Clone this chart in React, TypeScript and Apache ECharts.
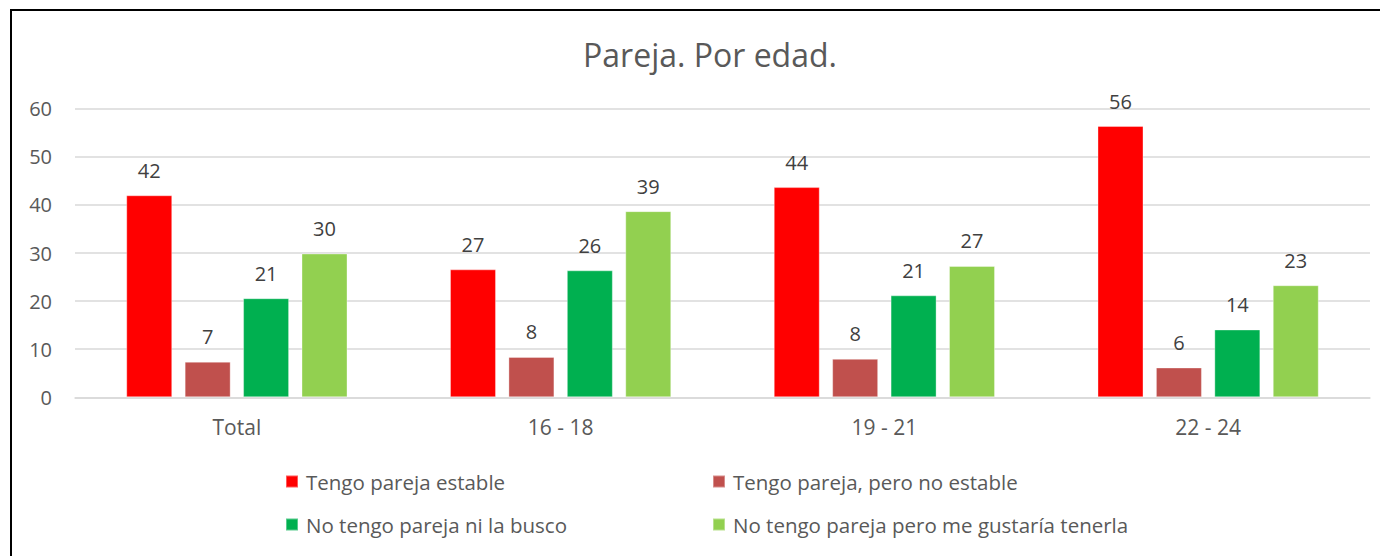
import React, { useEffect, useRef } from "react";
import * as echarts from "echarts";

const categories = ["Total", "16 - 18", "19 - 21", "22 - 24"];
const seriesNames = [
  "Tengo pareja estable",
  "Tengo pareja, pero no estable",
  "No tengo pareja ni la busco",
  "No tengo pareja pero me gustaría tenerla",
];
const estable = [42.0, 26.6, 43.7, 56.4];
const noEstable = [7.4, 8.4, 8.0, 6.2];
const niLaBusco = [20.6, 26.4, 21.2, 14.1];
const meGustaria = [29.9, 38.7, 27.3, 23.3];
const yTicks = [0, 10, 20, 30, 40, 50, 60];
const colors = ["#FF0000", "#C0504D", "#00B050", "#92D050"];

const FONT = "'Open Sans', 'Noto Sans', sans-serif";

export default function App() {
  const ref = useRef<HTMLDivElement>(null);
  useEffect(() => {
    document.body.style.margin = "0";
    const chart = echarts.init(ref.current!, null, { renderer: "svg" });
    const values = [estable, noEstable, niLaBusco, meGustaria];
    const legendText = {
      color: "#595959",
      fontSize: 20.5,
      fontFamily: FONT,
      padding: [0, 0, 0, 3],
    };
    chart.setOption({
      animation: false,
      backgroundColor: "#ffffff",
      textStyle: { fontFamily: FONT },
      title: {
        text: "Pareja. Por edad.",
        left: 705,
        textAlign: "center",
        top: 33,
        textStyle: {
          color: "#595959",
          fontSize: 32,
          fontWeight: "normal",
          fontFamily: FONT,
        },
      },
      graphic: [
        {
          type: "rect",
          shape: { x: 11, y: 10, width: 1420, height: 600 },
          style: { fill: "none", stroke: "#000000", lineWidth: 2 },
          silent: true,
        },
      ],
      legend: [
        {
          data: [seriesNames[0], seriesNames[2]],
          orient: "vertical",
          left: 285,
          top: 471,
          padding: 0,
          itemWidth: 12,
          itemHeight: 12,
          itemGap: 22,
          icon: "rect",
          textStyle: legendText,
        },
        {
          data: [seriesNames[1], seriesNames[3]],
          orient: "vertical",
          left: 712,
          top: 471,
          padding: 0,
          itemWidth: 12,
          itemHeight: 12,
          itemGap: 22,
          icon: "rect",
          textStyle: legendText,
        },
      ],
      grid: { left: 75, right: 10, top: 108.7, bottom: 158.7, containLabel: false },
      xAxis: {
        type: "category",
        data: categories,
        axisLine: { lineStyle: { color: "#D9D9D9", width: 1.5 } },
        axisTick: { show: false },
        axisLabel: { color: "#595959", fontSize: 21, margin: 19, fontFamily: FONT },
      },
      yAxis: {
        type: "value",
        min: yTicks[0],
        max: yTicks[yTicks.length - 1],
        interval: 10,
        axisLine: { show: false },
        axisTick: { show: false },
        axisLabel: { color: "#595959", fontSize: 20, margin: 23, fontFamily: FONT },
        splitLine: { lineStyle: { color: "#D9D9D9", width: 1.5 } },
      },
      series: values.map((v, i) => ({
        name: seriesNames[i],
        type: "bar",
        data: v,
        barWidth: 46,
        barGap: "27%",
        itemStyle: { color: colors[i], borderColor: "rgba(255,255,255,0.35)", borderWidth: 1 },
        label: {
          show: true,
          position: "top",
          distance: 15,
          color: "#404040",
          fontSize: 20,
          fontFamily: FONT,
          formatter: (p: any) => String(Math.round(p.value)),
        },
      })),
    });
    return () => chart.dispose();
  }, []);
  return <div ref={ref} style={{ width: 1380, height: 556 }} />;
}
